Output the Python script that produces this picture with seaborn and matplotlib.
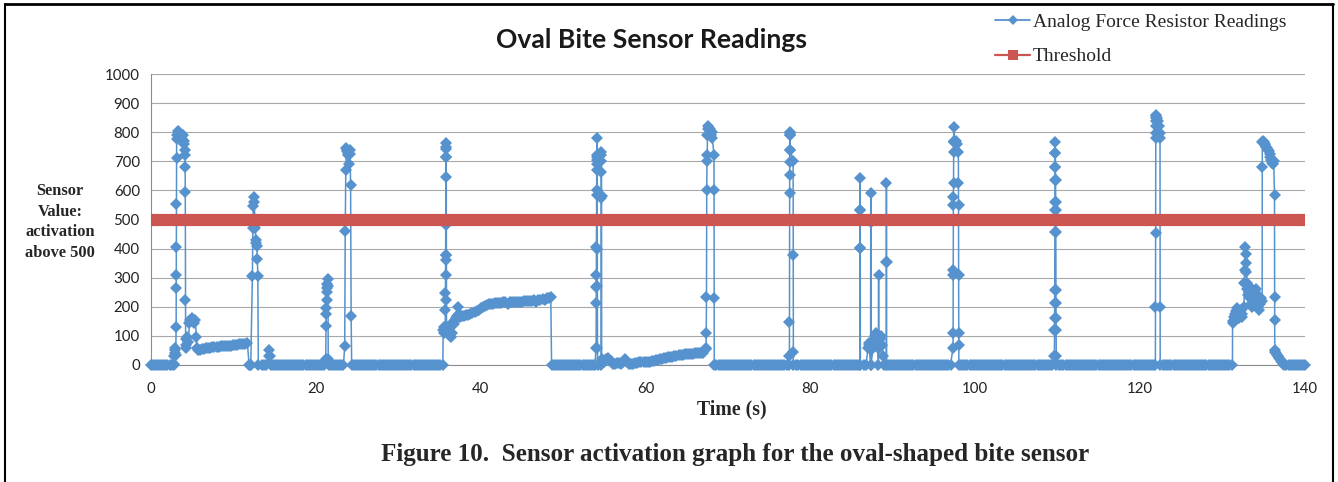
import matplotlib
matplotlib.use("Agg")
import matplotlib.pyplot as plt
from matplotlib.lines import Line2D
from matplotlib.ticker import MultipleLocator
import pandas as pd
import seaborn as sns

# ---------------- data ----------------
# Sensor readings as runs: (start time in s, sample step in s, readings)
run_a0 = (0.0, 0.25, [0, 0, 0, 0, 0, 0, 0, 0, 0, 0,
                      0, 0])
run_a1 = (2.8, 0.04, [5, 30, 50, 40, 60, 35])
run_a2 = (3.05, 0.01, [130, 265, 310, 405, 553, 711, 775])
run_a3 = (3.15, 0.1, [790, 805, 800, 795, 785, 780, 775, 790, 770, 760])
run_a4 = (4.1, 0.02, [740, 720, 680, 595, 223, 90, 60])
run_a5 = (4.3, 0.12, [70, 95, 80, 145, 155, 150, 160, 150, 145, 155, 95, 60])
run_a6 = (5.7, 0.25, [52, 53, 55, 56, 58, 59, 60, 61, 62, 63, 63, 64, 65, 65, 66, 67, 67, 68,
                      69, 70, 71, 72, 72, 73, 74])
run_b0 = (11.9, 0.1, [0, 0, 0])
run_b1 = (12.3, 0.06, [305, 470, 545, 578, 560, 480, 470, 430, 420, 410, 365, 305, 0])
run_c0 = (13.5, 0.25, [0, 0, 0])
run_c1 = (14.3, 0.05, [30, 50, 30])
run_c2 = (14.5, 0.25, [0, 0, 0, 0, 0, 0, 0, 0, 0, 0,
                       0, 0, 0, 0, 0, 0, 0, 0, 0, 0,
                       0, 0, 0, 0, 0, 0, 0])
run_d0 = (21.2, 0.03, [20, 135, 175, 195, 225, 250, 265, 280, 295, 270, 20])
run_d1 = (21.6, 0.25, [0, 0, 0, 0, 0, 0, 0, 0])
run_e0 = (23.5, 0.065, [65, 460, 670, 745, 740, 735, 730, 720, 690, 740, 725, 620, 170, 0])
run_e1 = (24.6, 0.25, [0, 0, 0, 0, 0, 0, 0, 0, 0, 0,
                       0, 0, 0, 0, 0, 0, 0, 0, 0, 0,
                       0, 0, 0, 0, 0, 0, 0, 0, 0, 0,
                       0, 0, 0, 0, 0, 0, 0, 0, 0, 0,
                       0, 0, 0])
run_f0 = (35.4, 0.05, [0, 120, 130, 110])
run_f1 = (35.7, 0.01, [130, 189, 247, 309, 361, 378, 481, 646, 715, 742, 762, 750, 715, 378, 223, 130])
run_f2 = (36.0, 0.12, [120, 110, 100, 96, 110, 148, 140, 155, 160, 170, 200, 175])
run_f3 = (37.5, 0.25, [165, 168, 170, 171, 172, 175, 178, 181, 185, 190, 195, 199, 203, 206, 208,
                       210, 211, 212, 213, 214, 214, 215, 215, 210, 215, 216, 216, 217, 217, 218,
                       218, 219, 219, 220, 220, 221, 222, 218, 224, 225, 226, 222, 229, 231, 232])
run_g0 = (48.6, 0.25, [0, 0, 0, 0, 0, 0, 0, 0, 0, 0,
                       0, 0, 0, 0, 0, 0, 0, 0, 0, 0,
                       0, 0])
run_g1 = (54.0, 0.01, [60, 213, 269, 310, 406, 500, 584, 670, 705, 716, 779, 720, 690, 600, 400, 270, 60, 0])
run_g2 = (54.6, 0.01, [0, 574, 664, 720, 733, 700, 580, 20])
run_h0 = (55.0, 0.25, [10, 20, 25, 15, 5, 5, 8, 6, 5, 12, 20, 10, 5, 4, 5, 6, 8, 9, 10, 10,
                       10, 11, 12, 14, 15, 16, 18, 20, 22, 24, 25, 26, 28, 29, 30, 32, 33, 34,
                       35, 37, 38, 38, 38, 39, 40, 40, 40, 41, 42])
run_i0 = (67.3, 0.03, [55, 60, 110, 235, 600, 700, 720, 790, 810, 820])
run_i1 = (67.7, 0.1, [815, 810, 790, 800, 780])
run_i2 = (68.3, 0.01, [720, 600, 230, 0])
run_j0 = (68.6, 0.25, [0, 0, 0, 0, 0, 0, 0, 0, 0, 0,
                       0, 0, 0, 0, 0, 0, 0, 0, 0, 0,
                       0, 0, 0, 0, 0, 0, 0, 0, 0, 0,
                       0, 0, 0, 0, 0, 0])
run_j1 = (77.45, 0.01, [30, 149, 590, 653, 699, 739, 790, 796, 800, 790, 740])
run_j2 = (77.9, 0.01, [700, 378, 46, 0])
run_k0 = (78.3, 0.25, [0, 0, 0, 0, 0, 0, 0, 0, 0, 0,
                       0, 0, 0, 0, 0, 0, 0, 0, 0, 0,
                       0, 0, 0, 0, 0, 0, 0, 0, 0, 0,
                       0])
run_k1 = (86.0, 0.01, [0, 401, 533, 641, 533, 401, 0])
run_k2 = (86.5, 0.25, [0, 0])
run_k3 = (87.0, 0.05, [60, 75, 70])
run_k4 = (87.3, 0.01, [0, 492, 590, 492, 0])
run_k5 = (87.6, 0.1, [60, 80, 100, 70, 110, 90, 60])
run_k6 = (88.25, 0.01, [0, 100, 309, 100, 60])
run_k7 = (88.5, 0.1, [90, 100, 70, 30, 0])
run_k8 = (89.2, 0.01, [0, 355, 624, 355, 0])
run_l0 = (89.5, 0.25, [0, 0, 0, 0, 0, 0, 0, 0, 0, 0,
                       0, 0, 0, 0, 0, 0, 0, 0, 0, 0,
                       0, 0, 0, 0, 0, 0, 0, 0, 0, 0,
                       0])
run_l1 = (97.3, 0.01, [60, 109, 309, 326, 550, 578, 624, 733, 767, 819, 770, 765])
run_l2 = (97.7, 0.1, [770, 760])
run_l3 = (97.95, 0.01, [733, 624, 550, 309, 109, 69, 0])
run_m0 = (98.3, 0.25, [0, 0, 0, 0, 0, 0, 0, 0, 0, 0,
                       0, 0, 0, 0, 0, 0, 0, 0, 0, 0,
                       0, 0, 0, 0, 0, 0, 0, 0, 0, 0,
                       0, 0, 0, 0, 0, 0, 0, 0, 0, 0,
                       0, 0, 0, 0, 0])
run_m1 = (109.6, 0.01, [30, 120, 160, 212, 258, 458, 533, 561, 636, 681, 727, 767, 727, 681,
                        636, 561, 533, 458, 258, 212, 160, 120, 30, 0])
run_n0 = (110.2, 0.25, [0, 0, 0, 0, 0, 0, 0, 0, 0, 0,
                        0, 0, 0, 0, 0, 0, 0, 0, 0, 0,
                        0, 0, 0, 0, 0, 0, 0, 0, 0, 0,
                        0, 0, 0, 0, 0, 0, 0, 0, 0, 0,
                        0, 0, 0, 0, 0, 0, 0])
run_n1 = (121.85, 0.01, [0, 200, 453, 779, 796, 820, 840, 850, 859])
run_n2 = (121.95, 0.1, [855, 850, 840, 820])
run_n3 = (122.4, 0.01, [796, 779, 200, 0])
run_o0 = (122.8, 0.25, [0, 0, 0, 0, 0, 0, 0, 0, 0, 0,
                        0, 0, 0, 0, 0, 0, 0, 0, 0, 0,
                        0, 0, 0, 0, 0, 0, 0, 0, 0, 0,
                        0, 0, 0])
run_o1 = (131.2, 0.01, [0, 143])
run_o2 = (131.3, 0.1, [150, 165, 175, 185, 195, 180, 170, 160, 185, 190, 175, 165])
run_o3 = (132.6, 0.05, [200, 281, 326, 407, 380, 350, 320, 281, 260])
run_o4 = (133.05, 0.1, [240, 270, 250, 230, 210, 200, 220, 240, 230, 250, 260, 240, 220, 200,
                        190, 210, 230])
run_o5 = (134.8, 0.01, [220, 681, 765])
run_o6 = (134.9, 0.1, [770, 765, 760, 755, 750, 745, 740, 735, 725, 715, 705, 695, 690, 700])
run_o7 = (136.3, 0.01, [584, 235, 155, 50])
run_o8 = (136.4, 0.12, [45, 40, 35, 30, 25, 20, 15, 10, 5])
run_p0 = (137.5, 0.25, [0, 0, 0, 0, 0, 0, 0, 0, 0, 0,
                        0])

threshold_time = [0.0, 140.0]
threshold_level = [500, 500]

x_ticks = [0, 20, 40, 60, 80, 100, 120, 140]
y_ticks = [0, 100, 200, 300, 400, 500, 600, 700, 800, 900, 1000]

title = "Oval Bite Sensor Readings"
series_label = "Analog Force Resistor Readings"
threshold_label = "Threshold"
y_label = "Sensor\nValue:\nactivation\nabove 500"
x_label = "Time (s)"
caption = "Figure 10.  Sensor activation graph for the oval-shaped bite sensor"

runs = [run_a0, run_a1, run_a2, run_a3, run_a4, run_a5, run_a6, run_b0, run_b1, run_c0, run_c1,
        run_c2, run_d0, run_d1, run_e0, run_e1, run_f0, run_f1, run_f2, run_f3, run_g0, run_g1,
        run_g2, run_h0, run_i0, run_i1, run_i2, run_j0, run_j1, run_j2, run_k0, run_k1, run_k2,
        run_k3, run_k4, run_k5, run_k6, run_k7, run_k8, run_l0, run_l1, run_l2, run_l3, run_m0,
        run_m1, run_n0, run_n1, run_n2, run_n3, run_o0, run_o1, run_o2, run_o3, run_o4, run_o5,
        run_o6, run_o7, run_o8, run_p0]

times, readings = [], []
for start, step, vals in runs:
    for i, v in enumerate(vals):
        times.append(round(start + i * step, 3))
        readings.append(v)
df = pd.DataFrame({"time": times, "reading": readings})
thr = pd.DataFrame({"time": threshold_time, "level": threshold_level})

# ---------------- style ----------------
BLUE = "#5592CE"
RED = "#CB5551"
GRID = "#A8A8A8"
AXC = "#8C8C8C"

sns.set_style("white")
plt.rcParams["font.family"] = ["Lato", "DejaVu Sans"]
SERIF = ["Liberation Serif", "DejaVu Serif"]

W, H = 1338, 482
fig = plt.figure(figsize=(W / 100, H / 100), dpi=100)
ax = fig.add_axes([151 / W, 1 - 365 / H, (1305 - 151) / W, (365 - 74) / H])

sns.lineplot(data=df, x="time", y="reading", sort=False, estimator=None, color=BLUE,
             marker="D", markersize=6.3, markeredgewidth=0, linewidth=1.1, ax=ax, zorder=3)
for ln in ax.lines:
    ln.set_clip_on(False)
n_before = len(ax.lines)
sns.lineplot(data=thr, x="time", y="level", color=RED, linewidth=8.8, ax=ax, zorder=4)
for ln in ax.lines[n_before:]:
    ln.set_solid_capstyle("butt")
    ln.set_clip_on(False)

ax.set_xlim(0, 140)
ax.set_ylim(0, 1000)
ax.set_xticks(x_ticks)
ax.set_yticks(y_ticks)
ax.yaxis.set_minor_locator(MultipleLocator(20))
ax.grid(axis="y", which="major", color=GRID, linewidth=0.8)
ax.grid(axis="x", visible=False)
ax.set_axisbelow(True)
for s in ["top", "right"]:
    ax.spines[s].set_visible(False)
for s in ["left", "bottom"]:
    ax.spines[s].set_color(AXC)
    ax.spines[s].set_linewidth(0.8)
ax.tick_params(axis="y", which="major", direction="inout", length=6, width=0.8, color=AXC,
               labelsize=10.8, labelcolor="#222222", pad=5)
ax.tick_params(axis="y", which="minor", direction="in", length=3, width=0.6, color=AXC)
ax.tick_params(axis="x", which="major", direction="out", length=4, width=0.8, color=AXC,
               labelsize=10.8, labelcolor="#222222", pad=8)
ax.set_xlabel("")
ax.set_ylabel("")
if ax.get_legend():
    ax.get_legend().remove()

# texts
fig.text(652 / W, 1 - 40 / H, title, ha="center", va="center", fontsize=19.1,
         fontweight="bold", color="#1a1a1a")
fig.text(60 / W, 1 - 222 / H, y_label, ha="center", va="center", fontsize=11.8,
         fontweight="bold", family=SERIF, linespacing=1.41)
fig.text(732 / W, 1 - 409 / H, x_label, ha="center", va="center", fontsize=14.2,
         fontweight="bold", family=SERIF)
fig.text(735 / W, 1 - 455 / H, caption, ha="center", va="center", fontsize=18.1,
         fontweight="bold", family=SERIF)

# legend
handles = [Line2D([], [], color=BLUE, lw=1.3, marker="D", markersize=5.5, markeredgewidth=0),
           Line2D([], [], color=RED, lw=1.6, marker="s", markersize=7, markeredgewidth=0)]
fig.legend(handles, [series_label, threshold_label], loc="upper left",
           bbox_to_anchor=(995 / W, 1 - 13 / H), frameon=False,
           prop={"family": SERIF, "size": 14}, handlelength=1.8, handletextpad=0.15,
           labelspacing=0.88, borderaxespad=0, borderpad=0)

# page frame
fc = "black"
fig.add_artist(Line2D([5 / W, 5 / W], [0, 1 - 4 / H], transform=fig.transFigure, color=fc, lw=1.5))
fig.add_artist(Line2D([5 / W, 1333 / W], [1 - 4 / H, 1 - 4 / H], transform=fig.transFigure, color=fc, lw=2))
fig.add_artist(Line2D([1333 / W, 1333 / W], [0, 1 - 4 / H], transform=fig.transFigure, color=fc, lw=1.5))

fig.savefig("out.png", dpi=100)
